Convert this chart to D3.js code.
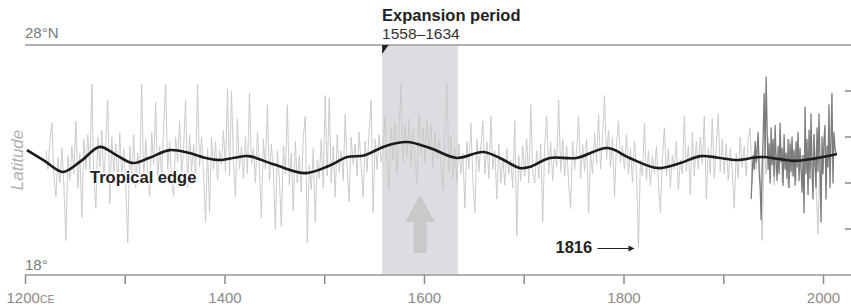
<!DOCTYPE html>
<html>
<head>
<meta charset="utf-8">
<script src="https://cdn.jsdelivr.net/npm/d3@7"></script>
<style>
    body { margin: 0; background: #fff; }
    svg { display: block; font-family: "Liberation Sans", Arial, Helvetica, sans-serif; }
</style>
</head>
<body>
<svg id="chart"></svg>
<script>
// --- Data ---
// Reconstructed (proxy) latitude of the tropical edge, every 2nd year from 1221
const proxyStart = 1221;
const proxyStep = 2;
const proxyLat = [
    23.4, 22.6, 23.8, 24.6, 22.3, 21.4, 23.1, 22.0, 23.5, 21.9,
    19.5, 23.2, 22.1, 23.6, 22.4, 24.7, 21.8, 23.3, 20.5, 23.9,
    22.6, 24.1, 22.4, 26.3, 22.2, 20.9, 24.0, 22.7, 24.3, 22.1,
    23.8, 25.6, 21.1, 24.0, 22.5, 23.7, 21.9, 24.2, 22.3, 23.5,
    22.0, 19.4, 23.6, 22.2, 24.1, 21.8, 23.3, 22.4, 26.3, 22.1,
    23.9, 22.5, 21.4, 24.2, 22.8, 25.5, 22.0, 23.6, 22.3, 24.4,
    26.3, 22.6, 23.8, 22.1, 21.4, 24.0, 22.9, 24.7, 22.4, 23.5,
    25.6, 21.8, 24.1, 22.5, 23.7, 22.2, 26.3, 22.7, 24.0, 22.4,
    20.3, 23.5, 20.7, 24.0, 22.6, 23.8, 22.1, 23.4, 22.8, 24.3,
    22.5, 26.1, 22.3, 26.0, 22.9, 21.4, 24.8, 22.6, 23.6, 22.2,
    24.0, 22.4, 25.9, 22.8, 23.5, 22.0, 24.2, 22.7, 20.5, 23.9,
    22.6, 25.4, 22.1, 23.7, 22.5, 20.0, 23.4, 22.2, 20.1, 23.6,
    22.4, 25.4, 21.9, 23.3, 20.8, 23.8, 22.0, 23.2, 21.6, 24.0,
    24.9, 19.4, 22.8, 21.7, 23.5, 20.3, 23.0, 22.2, 23.9, 21.8,
    25.8, 22.3, 25.7, 22.0, 23.6, 21.4, 24.1, 22.5, 23.4, 22.1,
    25.0, 22.6, 21.2, 24.0, 22.8, 23.7, 22.3, 24.2, 22.7, 21.4,
    23.8, 22.5, 24.3, 25.6, 20.7, 23.9, 22.6, 24.1, 22.9, 23.5,
    24.9, 22.8, 21.7, 24.4, 23.0, 24.6, 22.4, 24.2, 26.3, 22.9,
    24.5, 23.1, 24.8, 22.7, 24.3, 23.0, 22.0, 25.0, 23.2, 24.4,
    22.9, 24.8, 23.4, 24.6, 22.6, 24.2, 23.1, 23.9, 22.8, 21.7,
    24.3, 26.3, 22.5, 24.0, 22.2, 23.5, 22.0, 23.7, 22.4, 23.3,
    20.9, 23.8, 22.6, 24.6, 22.1, 20.7, 23.9, 22.5, 23.6, 24.7,
    22.4, 23.8, 22.2, 24.9, 22.6, 23.4, 21.3, 23.7, 22.0, 23.1,
    21.9, 23.5, 22.4, 23.0, 21.8, 24.7, 19.7, 23.2, 22.1, 23.6,
    22.3, 23.9, 22.0, 25.4, 22.5, 22.0, 23.4, 22.2, 23.7, 20.3,
    23.6, 24.9, 22.4, 23.8, 22.1, 23.5, 22.7, 25.6, 22.5, 23.9,
    22.3, 23.6, 22.0, 20.9, 23.8, 22.6, 23.4, 24.9, 22.2, 23.7,
    22.5, 23.9, 20.7, 23.3, 22.4, 24.2, 22.8, 25.0, 22.6, 24.0,
    25.8, 23.0, 24.3, 22.7, 24.0, 21.4, 23.7, 24.7, 22.9, 23.6,
    22.6, 24.1, 22.4, 23.5, 22.0, 23.8, 22.5, 19.2, 23.0, 22.3,
    24.6, 22.1, 23.4, 21.9, 23.2, 22.4, 23.6, 22.0, 20.7, 23.1,
    24.4, 22.3, 23.5, 21.8, 23.2, 22.6, 23.8, 21.7, 23.0, 22.4,
    24.9, 22.5, 23.6, 21.5, 24.2, 22.3, 23.8, 22.6, 24.0, 22.8,
    24.9, 21.3, 23.5, 22.4, 24.8, 22.2, 23.6, 25.0, 22.5, 23.9,
    22.4, 23.7, 22.1, 23.5, 22.6, 20.9, 23.3, 22.2, 24.0, 22.7,
    23.6, 22.3, 23.9, 24.4, 22.0, 23.4, 22.6, 23.8, 22.3, 19.5,
    23.5, 22.4, 24.0, 22.2, 23.6, 21.9, 23.3, 22.5, 24.1, 22.0,
    23.4, 22.6, 21.8, 23.9, 22.3, 23.5, 22.1, 24.0, 22.6, 23.2,
    22.4, 23.7, 22.0, 23.4, 22.7, 24.1, 21.9, 19.8, 23.2, 22.6,
];

// Observed latitude, yearly from 1928
const obsStart = 1928;
const obsLat = [
    21.3, 22.4, 23.2, 22.6, 23.8, 22.9, 23.5, 24.2, 22.5, 21.8,
    20.4, 22.7, 24.0, 25.9, 23.1, 26.6, 24.3, 22.6, 23.7, 22.0,
    24.4, 22.8, 23.9, 22.3, 24.5, 23.0, 22.1, 23.6, 22.4, 24.6,
    22.9, 23.5, 21.9, 24.1, 22.6, 23.3, 22.2, 23.9, 21.8, 23.7,
    22.5, 24.0, 22.3, 23.4, 21.9, 23.8, 22.7, 24.2, 22.1, 23.5,
    22.6, 21.6, 23.2, 20.7, 25.3, 22.4, 23.9, 21.5, 24.3, 22.2,
    25.0, 22.6, 21.3, 24.1, 22.9, 21.8, 24.4, 22.5, 25.0, 22.8,
    20.3, 24.0, 22.4, 23.9, 24.5, 21.3, 23.6, 22.7, 25.4, 21.8,
    23.9, 25.9, 22.0, 24.2, 23.5, 23.3,
];

// Smoothed tropical edge
const edgeYears = [1202, 1220, 1238, 1256, 1275, 1292, 1308, 1325, 1345, 1365,
    1380, 1395, 1410, 1424, 1450, 1481, 1505, 1523, 1540, 1561,
    1583, 1606, 1633, 1659, 1676, 1696, 1706, 1726, 1753, 1784,
    1806, 1834, 1857, 1877, 1895, 1914, 1937, 1955, 1970, 1990, 2014];
const edgeLat = [23.43, 22.95, 22.48, 22.95, 23.57, 23.2, 22.87, 23.1, 23.43, 23.3,
    23.1, 23.0, 23.1, 23.17, 22.8, 22.43, 22.75, 23.13, 23.2, 23.6,
    23.78, 23.52, 23.09, 23.35, 23.09, 22.65, 22.7, 23.09, 23.09, 23.52,
    23.09, 22.65, 22.87, 23.17, 23.1, 23.0, 23.13, 23.05, 22.96, 23.05, 23.26];

const yearTicks = [1200, 1300, 1400, 1500, 1600, 1700, 1800, 1900, 2000];
const yearLabels = [1200, 1400, 1600, 1800, 2000];
const latTicks = [20, 22, 24, 26];
const expansion = [1558, 1634];
const eventYear = 1816;

// --- Setup ---
const width = 851;
const height = 306;

const svg = d3.select("#chart").attr("width", width).attr("height", height);

const x = d3.scaleLinear().domain([1200, 2000]).range([25, 823]);
const y = d3.scaleLinear().domain([18, 28]).range([275, 45]);

const right = width;

// Expansion band
svg.append("rect")
    .attr("x", x(expansion[0]))
    .attr("y", y(28))
    .attr("width", x(expansion[1]) - x(expansion[0]))
    .attr("height", y(18) - y(28))
    .attr("fill", "#dcdde0");

// Upward arrow in the band
const ax = (x(expansion[0]) + x(expansion[1])) / 2;
svg.append("path")
    .attr("d", `M${ax},195 L${ax + 15},222 L${ax + 6.5},222 L${ax + 6.5},253 L${ax - 6.5},253 L${ax - 6.5},222 L${ax - 15},222 Z`)
    .attr("fill", "#c8c9cb");

// --- Lines ---
const proxyPts = proxyLat.map((v, i) => [proxyStart + i * proxyStep, v]);
const obsPts = obsLat.map((v, i) => [obsStart + i, v]);
const edgePts = edgeYears.map((yr, i) => [yr, edgeLat[i]]);

const line = d3.line().x(d => x(d[0])).y(d => y(d[1]));

svg.append("path")
    .datum(proxyPts)
    .attr("d", line)
    .attr("fill", "none")
    .attr("stroke", "#cbcbcb")
    .attr("stroke-width", 1)
    .attr("stroke-linejoin", "round");

svg.append("path")
    .datum(obsPts)
    .attr("d", line)
    .attr("fill", "none")
    .attr("stroke", "#7c7c7c")
    .attr("stroke-width", 1.3)
    .attr("stroke-linejoin", "round");

svg.append("path")
    .datum(edgePts)
    .attr("d", line.curve(d3.curveCatmullRom.alpha(0.5)))
    .attr("fill", "none")
    .attr("stroke", "#1c1c1c")
    .attr("stroke-width", 2.6);

// --- Frame lines ---
svg.append("line")
    .attr("x1", x(1200)).attr("x2", right)
    .attr("y1", y(28)).attr("y2", y(28))
    .attr("stroke", "#9a9a9a").attr("stroke-width", 1.5);

svg.append("line")
    .attr("x1", x(1200)).attr("x2", right)
    .attr("y1", y(18)).attr("y2", y(18))
    .attr("stroke", "#9a9a9a").attr("stroke-width", 1.5);

// triangle marker at band start
const bx = x(expansion[0]);
svg.append("path")
    .attr("d", `M${bx},${y(28)} L${bx + 6.5},${y(28)} L${bx},${y(28) + 9} Z`)
    .attr("fill", "#222");

// --- X axis ---
const xAxis = d3.axisBottom(x)
    .tickValues(yearTicks)
    .tickSize(9)
    .tickFormat(d => (yearLabels.includes(d) ? d : ""));

const gx = svg.append("g")
    .attr("transform", `translate(0,${y(18)})`)
    .call(xAxis);

gx.select(".domain").remove();
gx.selectAll(".tick line").attr("stroke", "#8a8a8a").attr("stroke-width", 1.5);
gx.selectAll(".tick text")
    .attr("y", 17)
    .attr("fill", "#8a8a8a")
    .style("font-size", "15px")
    .style("font-family", "'Liberation Sans', Arial, sans-serif");

gx.selectAll(".tick text")
    .filter(d => d === 1200)
    .attr("text-anchor", "start")
    .attr("x", -19)
    .text("1200")
    .append("tspan")
    .style("font-size", "10.5px")
    .text("CE");

// --- Y ticks on the right ---
svg.selectAll(".lat-tick")
    .data(latTicks)
    .enter()
    .append("line")
    .attr("class", "lat-tick")
    .attr("x1", 845).attr("x2", right)
    .attr("y1", d => y(d)).attr("y2", d => y(d))
    .attr("stroke", "#8a8a8a")
    .attr("stroke-width", 1.5);

// --- Labels ---
svg.append("text")
    .attr("x", x(1200)).attr("y", 38)
    .attr("fill", "#7a7a7a")
    .style("font-size", "15px")
    .text("28°N");

svg.append("text")
    .attr("x", x(1200)).attr("y", 270)
    .attr("fill", "#7a7a7a")
    .style("font-size", "15px")
    .text("18°");

svg.append("text")
    .attr("transform", "translate(23,160) rotate(-90)")
    .attr("text-anchor", "middle")
    .attr("fill", "#b0b0b0")
    .style("font-size", "17px")
    .style("font-style", "italic")
    .text("Latitude");

svg.append("text")
    .attr("x", bx).attr("y", 21)
    .attr("fill", "#222")
    .style("font-size", "16.5px")
    .style("font-weight", "bold")
    .text("Expansion period");

svg.append("text")
    .attr("x", bx).attr("y", 39)
    .attr("fill", "#333")
    .style("font-size", "15.5px")
    .text(`${expansion[0]}–${expansion[1]}`);

svg.append("text")
    .attr("x", 90).attr("y", 183)
    .attr("fill", "#222")
    .attr("stroke", "#fff")
    .attr("stroke-width", 3)
    .attr("paint-order", "stroke")
    .style("font-size", "16.5px")
    .style("font-weight", "bold")
    .text("Tropical edge");

// 1816 annotation
const ex = x(eventYear);
svg.append("text")
    .attr("x", ex - 84).attr("y", 253)
    .attr("fill", "#222")
    .style("font-size", "16.5px")
    .style("font-weight", "bold")
    .text(eventYear);

svg.append("line")
    .attr("x1", ex - 42).attr("x2", ex - 9)
    .attr("y1", 248.5).attr("y2", 248.5)
    .attr("stroke", "#222").attr("stroke-width", 1.2);

svg.append("path")
    .attr("d", `M${ex - 5},248.5 L${ex - 11},245.5 L${ex - 11},251.5 Z`)
    .attr("fill", "#222");
</script>
</body>
</html>
